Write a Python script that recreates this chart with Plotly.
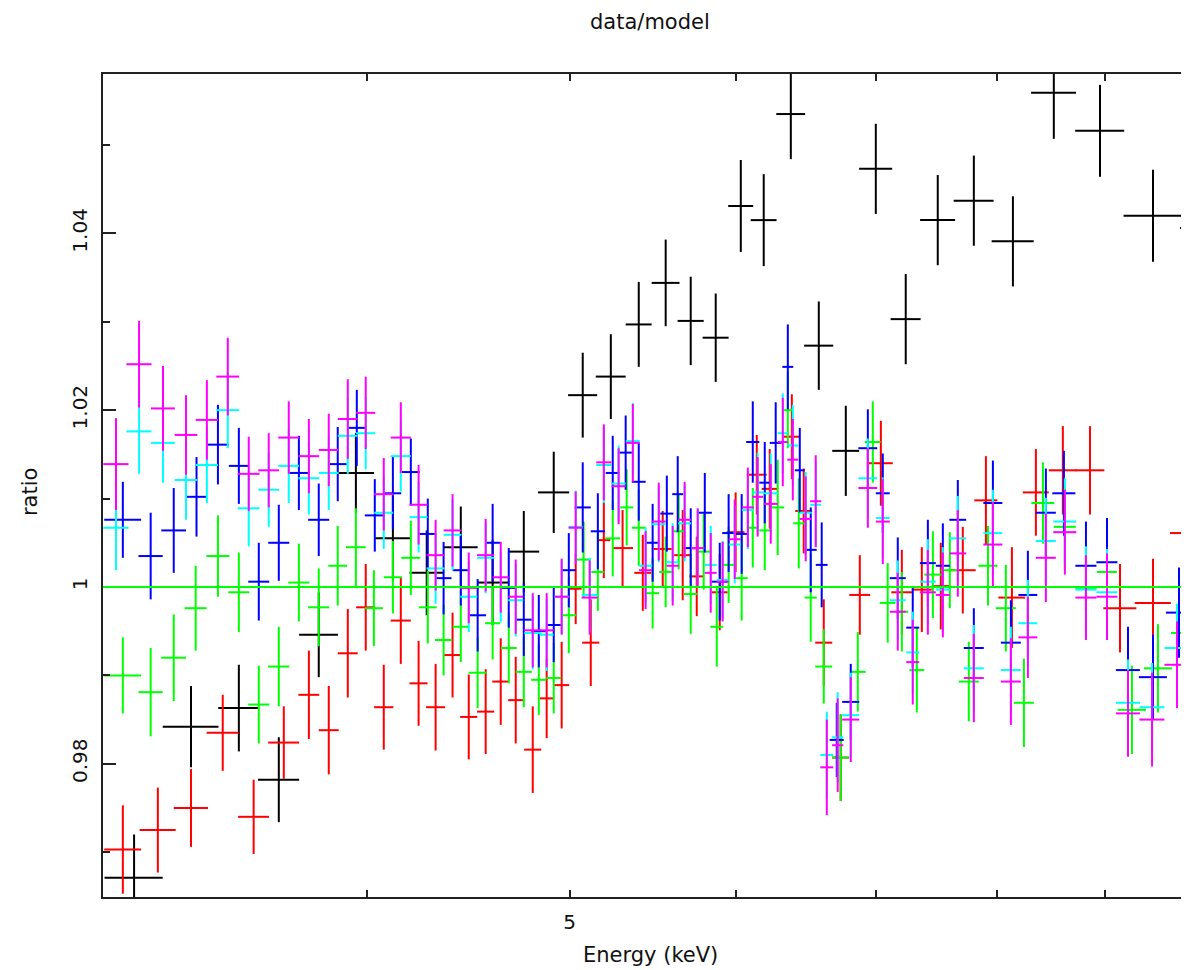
import math
import plotly.graph_objects as go

# ---------------- data (energy keV, half bin width, data/model ratio, 1-sigma error) ----------------
blk_e = [3.098, 3.298, 3.476, 3.632, 3.795, 3.953, 4.117, 4.273, 4.436, 4.594, 4.754, 4.913, 5.072, 5.231,
         5.394, 5.556, 5.711, 5.870, 6.034, 6.188, 6.375, 6.574, 6.772, 6.999, 7.233, 7.492, 7.795, 8.137,
         8.511, 8.954, 9.491, 9.863]
blk_de = [0.099, 0.101, 0.078, 0.082, 0.081, 0.080, 0.079, 0.080, 0.083, 0.078, 0.081, 0.084, 0.081, 0.086,
          0.077, 0.085, 0.082, 0.084, 0.083, 0.088, 0.101, 0.105, 0.100, 0.127, 0.119, 0.144, 0.171, 0.188,
          0.210, 0.241, 0.302, 0.086]
blk_r = [0.9671, 0.9842, 0.9863, 0.9782, 0.9946, 1.0129, 1.0055, 1.0016, 1.0045, 1.0005, 1.0040, 1.0107,
         1.0217, 1.0238, 1.0297, 1.0344, 1.0301, 1.0282, 1.0431, 1.0415, 1.0535, 1.0273, 1.0154, 1.0473,
         1.0303, 1.0415, 1.0437, 1.0391, 1.0559, 1.0516, 1.0420, 1.0406]
blk_err = [0.0049, 0.0046, 0.0049, 0.0048, 0.0048, 0.0045, 0.0048, 0.0048, 0.0046, 0.0048, 0.0046, 0.0046,
           0.0048, 0.0048, 0.0048, 0.0049, 0.0050, 0.0050, 0.0052, 0.0052, 0.0051, 0.0050, 0.0051, 0.0051,
           0.0051, 0.0051, 0.0051, 0.0051, 0.0052, 0.0052, 0.0052, 0.0107]

red_e = [3.060, 3.180, 3.298, 3.415, 3.533, 3.652, 3.754, 3.837, 3.918, 3.996, 4.076, 4.153, 4.235, 4.315,
         4.396, 4.475, 4.559, 4.635, 4.712, 4.801, 4.875, 4.956, 5.033, 5.117, 5.191, 5.299, 5.418, 5.538,
         5.661, 5.749, 5.896, 6.000, 6.141, 6.229, 6.382, 6.466, 6.610, 6.734, 6.877, 7.038, 7.202, 7.362,
         7.517, 7.701, 7.899, 8.128, 8.345, 8.596, 8.856, 9.153, 9.491, 9.809]
red_de = [0.062, 0.063, 0.062, 0.060, 0.060, 0.062, 0.043, 0.042, 0.043, 0.042, 0.043, 0.046, 0.042, 0.045,
          0.041, 0.042, 0.043, 0.043, 0.039, 0.045, 0.037, 0.041, 0.033, 0.048, 0.037, 0.061, 0.050, 0.055,
          0.053, 0.047, 0.052, 0.059, 0.067, 0.055, 0.056, 0.060, 0.062, 0.063, 0.079, 0.093, 0.083, 0.081,
          0.074, 0.110, 0.100, 0.120, 0.119, 0.132, 0.141, 0.166, 0.188, 0.140]
red_r = [0.9703, 0.9725, 0.9750, 0.9835, 0.9740, 0.9824, 0.9878, 0.9838, 0.9925, 0.9977, 0.9864, 0.9962,
         0.9891, 0.9864, 0.9923, 0.9853, 0.9859, 0.9893, 0.9872, 0.9816, 0.9874, 0.9889, 0.9998, 0.9937,
         1.0053, 1.0044, 1.0016, 1.0043, 1.0036, 1.0012, 0.9994, 1.0062, 1.0127, 1.0111, 1.0170, 1.0086,
         0.9937, 0.9807, 0.9991, 1.0140, 0.9994, 0.9997, 1.0001, 1.0019, 1.0098, 0.9988, 1.0107, 1.0132,
         1.0132, 0.9976, 0.9982, 1.0061]
red_err = [0.0050, 0.0048, 0.0044, 0.0043, 0.0042, 0.0041, 0.0050, 0.0050, 0.0050, 0.0049, 0.0048, 0.0049,
           0.0048, 0.0049, 0.0048, 0.0048, 0.0048, 0.0049, 0.0049, 0.0049, 0.0045, 0.0049, 0.0040, 0.0049,
           0.0043, 0.0043, 0.0043, 0.0043, 0.0051, 0.0045, 0.0043, 0.0045, 0.0045, 0.0045, 0.0048, 0.0048,
           0.0049, 0.0049, 0.0045, 0.0048, 0.0048, 0.0048, 0.0049, 0.0049, 0.0050, 0.0057, 0.0049, 0.0050,
           0.0050, 0.0050, 0.0050, 0.0061]

grn_e = [3.060, 3.155, 3.236, 3.315, 3.397, 3.476, 3.553, 3.632, 3.713, 3.795, 3.875, 3.953, 4.032, 4.117,
         4.199, 4.278, 4.353, 4.436, 4.519, 4.594, 4.676, 4.754, 4.833, 4.913, 4.995, 5.077, 5.157, 5.242,
         5.323, 5.394, 5.477, 5.556, 5.636, 5.711, 5.793, 5.877, 5.954, 6.040, 6.114, 6.195, 6.284, 6.354,
         6.431, 6.516, 6.610, 6.734, 6.862, 6.976, 7.091, 7.202, 7.322, 7.452, 7.592, 7.752, 7.917, 8.074,
         8.236, 8.410, 8.615, 8.817, 9.023, 9.274, 9.543, 9.809]
grn_de = [0.062, 0.042, 0.044, 0.040, 0.043, 0.040, 0.041, 0.042, 0.043, 0.044, 0.040, 0.043, 0.040, 0.041,
          0.044, 0.042, 0.041, 0.039, 0.045, 0.038, 0.041, 0.042, 0.040, 0.040, 0.041, 0.042, 0.037, 0.043,
          0.038, 0.041, 0.039, 0.040, 0.034, 0.044, 0.041, 0.042, 0.039, 0.040, 0.040, 0.037, 0.045, 0.038,
          0.039, 0.043, 0.062, 0.063, 0.060, 0.061, 0.062, 0.051, 0.060, 0.070, 0.075, 0.085, 0.083, 0.089,
          0.090, 0.106, 0.104, 0.102, 0.099, 0.145, 0.147, 0.129]
grn_r = [0.9900, 0.9881, 0.9920, 0.9976, 1.0035, 0.9994, 0.9867, 0.9910, 1.0005, 0.9977, 1.0024, 1.0045,
         0.9976, 1.0011, 1.0033, 0.9977, 0.9940, 0.9955, 0.9903, 0.9959, 0.9931, 0.9904, 0.9895, 0.9897,
         0.9968, 1.0031, 1.0017, 1.0055, 1.0090, 1.0067, 0.9993, 1.0017, 1.0063, 0.9992, 1.0040, 0.9955,
         1.0025, 1.0010, 1.0067, 1.0064, 1.0090, 1.0200, 1.0072, 0.9988, 0.9910, 0.9807, 0.9904, 1.0164,
         0.9982, 0.9972, 0.9906, 1.0014, 1.0019, 0.9893, 1.0024, 0.9976, 0.9869, 1.0095, 1.0068, 0.9999,
         1.0017, 0.9861, 0.9908, 0.9948]
grn_err = [0.0043, 0.0050, 0.0049, 0.0048, 0.0046, 0.0045, 0.0044, 0.0045, 0.0044, 0.0044, 0.0045, 0.0044,
           0.0043, 0.0041, 0.0042, 0.0041, 0.0040, 0.0040, 0.0040, 0.0041, 0.0040, 0.0040, 0.0040, 0.0040,
           0.0043, 0.0043, 0.0044, 0.0043, 0.0043, 0.0043, 0.0040, 0.0040, 0.0043, 0.0045, 0.0043, 0.0045,
           0.0043, 0.0048, 0.0045, 0.0045, 0.0054, 0.0043, 0.0051, 0.0050, 0.0042, 0.0049, 0.0045, 0.0046,
           0.0045, 0.0045, 0.0048, 0.0049, 0.0043, 0.0045, 0.0045, 0.0049, 0.0050, 0.0046, 0.0048, 0.0050,
           0.0048, 0.0050, 0.0050, 0.0058]

blu_e = [3.060, 3.155, 3.236, 3.318, 3.397, 3.476, 3.553, 3.632, 3.713, 3.795, 3.875, 3.957, 4.036, 4.117,
         4.199, 4.278, 4.353, 4.436, 4.519, 4.594, 4.676, 4.754, 4.833, 4.913, 4.995, 5.072, 5.157, 5.242,
         5.317, 5.394, 5.477, 5.563, 5.630, 5.711, 5.800, 5.896, 5.954, 6.040, 6.114, 6.195, 6.270, 6.354,
         6.438, 6.516, 6.595, 6.705, 6.809, 6.938, 7.053, 7.170, 7.289, 7.411, 7.534, 7.659, 7.795, 7.960,
         8.119, 8.272, 8.437, 8.606, 8.817, 9.023, 9.234, 9.491, 9.766]
blu_de = [0.062, 0.042, 0.044, 0.036, 0.041, 0.038, 0.041, 0.042, 0.041, 0.044, 0.038, 0.037, 0.044, 0.038,
          0.041, 0.040, 0.038, 0.039, 0.042, 0.038, 0.041, 0.042, 0.040, 0.040, 0.038, 0.045, 0.040, 0.040,
          0.038, 0.041, 0.039, 0.040, 0.034, 0.044, 0.045, 0.052, 0.042, 0.040, 0.044, 0.037, 0.041, 0.038,
          0.035, 0.043, 0.043, 0.052, 0.064, 0.072, 0.054, 0.063, 0.052, 0.065, 0.058, 0.071, 0.086, 0.083,
          0.089, 0.086, 0.093, 0.109, 0.102, 0.104, 0.122, 0.146, 0.139]
blu_r = [1.0076, 1.0035, 1.0064, 1.0102, 1.0161, 1.0137, 1.0006, 1.0050, 1.0129, 1.0076, 1.0139, 1.0180,
         1.0081, 1.0106, 1.0130, 1.0060, 1.0010, 1.0019, 0.9968, 1.0050, 0.9999, 0.9963, 0.9950, 0.9957,
         1.0019, 1.0090, 1.0063, 1.0129, 1.0152, 1.0119, 1.0050, 1.0083, 1.0105, 1.0044, 1.0084, 1.0006,
         1.0061, 1.0060, 1.0164, 1.0118, 1.0163, 1.0249, 1.0132, 1.0042, 1.0025, 0.9827, 0.9870, 1.0157,
         1.0106, 1.0010, 0.9954, 1.0027, 1.0024, 1.0076, 0.9931, 1.0095, 0.9937, 0.9991, 1.0084, 1.0106,
         1.0024, 1.0028, 0.9906, 0.9898, 0.9971]
blu_err = [0.0043, 0.0049, 0.0048, 0.0045, 0.0045, 0.0043, 0.0044, 0.0043, 0.0042, 0.0041, 0.0042, 0.0043,
           0.0041, 0.0041, 0.0038, 0.0040, 0.0041, 0.0040, 0.0041, 0.0044, 0.0045, 0.0041, 0.0041, 0.0042,
           0.0042, 0.0051, 0.0043, 0.0042, 0.0042, 0.0044, 0.0044, 0.0043, 0.0043, 0.0045, 0.0045, 0.0044,
           0.0044, 0.0045, 0.0046, 0.0046, 0.0046, 0.0048, 0.0048, 0.0048, 0.0048, 0.0042, 0.0043, 0.0044,
           0.0045, 0.0046, 0.0045, 0.0049, 0.0048, 0.0045, 0.0045, 0.0048, 0.0048, 0.0050, 0.0050, 0.0048,
           0.0050, 0.0050, 0.0049, 0.0048, 0.0051]

# cyan and magenta share the same energy binning
cm_e = [3.037, 3.115, 3.198, 3.280, 3.356, 3.434, 3.514, 3.592, 3.672, 3.754, 3.837, 3.918, 3.996, 4.076,
        4.153, 4.235, 4.315, 4.396, 4.475, 4.559, 4.635, 4.712, 4.801, 4.875, 4.956, 5.033, 5.111, 5.191,
        5.276, 5.359, 5.435, 5.514, 5.599, 5.673, 5.755, 5.838, 5.915, 5.994, 6.081, 6.147, 6.236, 6.319,
        6.389, 6.480, 6.552, 6.632, 6.712, 6.809, 6.938, 7.053, 7.170, 7.289, 7.411, 7.534, 7.659, 7.795,
        7.960, 8.119, 8.272, 8.437, 8.615, 8.817, 9.023, 9.234, 9.481, 9.745]
cm_de = [0.042, 0.043, 0.042, 0.041, 0.041, 0.043, 0.042, 0.041, 0.042, 0.043, 0.042, 0.043, 0.042, 0.043,
         0.046, 0.042, 0.043, 0.043, 0.042, 0.043, 0.041, 0.039, 0.045, 0.037, 0.041, 0.039, 0.045, 0.043,
         0.041, 0.041, 0.039, 0.042, 0.037, 0.040, 0.041, 0.038, 0.039, 0.039, 0.040, 0.037, 0.048, 0.035,
         0.039, 0.043, 0.040, 0.047, 0.041, 0.064, 0.072, 0.054, 0.063, 0.052, 0.065, 0.058, 0.071, 0.086,
         0.083, 0.089, 0.086, 0.093, 0.109, 0.102, 0.104, 0.122, 0.130, 0.134]
cyn_r = [1.0067, 1.0176, 1.0163, 1.0121, 1.0138, 1.0200, 1.0089, 1.0110, 1.0137, 1.0123, 1.0129, 1.0171,
         1.0174, 1.0084, 1.0148, 1.0079, 1.0021, 1.0059, 0.9989, 1.0033, 1.0000, 0.9985, 0.9948, 0.9946,
         0.9989, 1.0068, 0.9991, 1.0138, 1.0117, 1.0165, 1.0024, 1.0071, 1.0028, 1.0072, 1.0044, 1.0025,
         1.0008, 1.0048, 1.0087, 1.0107, 1.0106, 1.0174, 1.0160, 1.0084, 1.0093, 0.9810, 0.9830, 0.9855,
         1.0123, 1.0078, 0.9985, 0.9926, 1.0006, 0.9997, 1.0055, 0.9908, 1.0061, 0.9906, 0.9959, 1.0052,
         1.0074, 0.9997, 0.9994, 0.9869, 0.9864, 0.9931]
cyn_err = [0.0048, 0.0048, 0.0045, 0.0045, 0.0043, 0.0043, 0.0043, 0.0042, 0.0042, 0.0041, 0.0042, 0.0043,
           0.0041, 0.0041, 0.0040, 0.0040, 0.0040, 0.0040, 0.0040, 0.0040, 0.0040, 0.0041, 0.0041, 0.0041,
           0.0042, 0.0041, 0.0042, 0.0043, 0.0043, 0.0043, 0.0043, 0.0043, 0.0044, 0.0043, 0.0044, 0.0044,
           0.0044, 0.0044, 0.0044, 0.0045, 0.0045, 0.0045, 0.0046, 0.0046, 0.0048, 0.0049, 0.0051, 0.0048,
           0.0045, 0.0046, 0.0045, 0.0046, 0.0048, 0.0048, 0.0048, 0.0049, 0.0049, 0.0049, 0.0049, 0.0049,
           0.0049, 0.0049, 0.0049, 0.0049, 0.0050, 0.0050]
mag_r = [1.0139, 1.0252, 1.0202, 1.0172, 1.0189, 1.0238, 1.0128, 1.0132, 1.0169, 1.0148, 1.0155, 1.0190,
         1.0197, 1.0105, 1.0169, 1.0093, 1.0036, 1.0064, 0.9999, 1.0036, 1.0011, 0.9989, 0.9951, 0.9951,
         0.9989, 1.0067, 0.9988, 1.0141, 1.0114, 1.0163, 1.0019, 1.0074, 1.0024, 1.0076, 1.0044, 1.0016,
         1.0006, 1.0054, 1.0090, 1.0102, 1.0094, 1.0164, 1.0144, 1.0077, 1.0097, 0.9796, 0.9821, 0.9850,
         1.0112, 1.0074, 0.9972, 0.9915, 0.9994, 0.9991, 1.0038, 0.9897, 1.0048, 0.9893, 0.9943, 1.0033,
         1.0062, 0.9988, 0.9989, 0.9857, 0.9850, 0.9912]
mag_err = [0.0052, 0.0049, 0.0048, 0.0045, 0.0045, 0.0044, 0.0042, 0.0042, 0.0041, 0.0042, 0.0041, 0.0045,
           0.0041, 0.0041, 0.0040, 0.0045, 0.0040, 0.0041, 0.0040, 0.0041, 0.0040, 0.0042, 0.0042, 0.0042,
           0.0043, 0.0041, 0.0042, 0.0043, 0.0043, 0.0044, 0.0044, 0.0044, 0.0045, 0.0043, 0.0045, 0.0045,
           0.0045, 0.0045, 0.0045, 0.0045, 0.0045, 0.0050, 0.0046, 0.0048, 0.0052, 0.0054, 0.0053, 0.0048,
           0.0045, 0.0048, 0.0044, 0.0048, 0.0048, 0.0048, 0.0049, 0.0050, 0.0048, 0.0049, 0.0046, 0.0050,
           0.0048, 0.0048, 0.0049, 0.0049, 0.0053, 0.0049]

model_ratio = 1.0
x_min_kev, x_max_kev = 2.994, 9.874
y_min, y_max = 0.96493, 1.05803
x_tick_vals = [4, 5, 6, 7, 8, 9]
x_tick_text = ["", "5", "", "", "", ""]
y_tick_vals = [0.98, 1.00, 1.02, 1.04]
y_tick_text = ["0.98", "1", "1.02", "1.04"]
y_minor_vals = [0.97, 0.99, 1.01, 1.03, 1.05]

series = [
    (blk_e, blk_de, blk_r, blk_err, "#000000"),
    (red_e, red_de, red_r, red_err, "#ff0000"),
    (grn_e, grn_de, grn_r, grn_err, "#00ff00"),
    (blu_e, blu_de, blu_r, blu_err, "#0000ff"),
    (cm_e, cm_de, cyn_r, cyn_err, "#00ffff"),
    (cm_e, cm_de, mag_r, mag_err, "#ff00ff"),
]

fig = go.Figure()
for e, de, r, err, col in series:
    fig.add_trace(go.Scatter(
        x=e, y=r, mode="markers",
        marker=dict(size=1, color=col),
        error_x=dict(type="data", array=de, color=col, thickness=2, width=0),
        error_y=dict(type="data", array=err, color=col, thickness=2, width=0),
        showlegend=False, hoverinfo="skip",
    ))

fig.add_hline(y=model_ratio, line=dict(color="#00ff00", width=2))

axis_col = "#222222"
text_font = dict(family="DejaVu Sans", size=21, color="#111111")
tick_font = dict(family="DejaVu Sans", size=20, color="#111111")

# the page body has an 8 px default margin; the figure is sized so the plot frame
# lands at x 103..1189 and y 74..897 in the browser window
fig.update_layout(
    width=1181, height=962,
    margin=dict(l=95, r=0, t=66, b=73),
    paper_bgcolor="white", plot_bgcolor="white",
    showlegend=False,
    xaxis=dict(
        type="log", range=[math.log10(x_min_kev), math.log10(x_max_kev)],
        tickmode="array", tickvals=x_tick_vals, ticktext=x_tick_text,
        ticks="inside", ticklen=7, tickwidth=2, tickcolor=axis_col,
        showline=True, linecolor=axis_col, linewidth=2, mirror="ticks",
        showgrid=False, zeroline=False, tickfont=tick_font, ticklabelstandoff=6,
    ),
    yaxis=dict(
        range=[y_min, y_max],
        tickmode="array", tickvals=y_tick_vals, ticktext=y_tick_text,
        ticks="inside", ticklen=13, tickwidth=2, tickcolor=axis_col,
        minor=dict(tickmode="array", tickvals=y_minor_vals, ticks="inside", ticklen=7,
                   tickwidth=2, tickcolor=axis_col, showgrid=False),
        showline=True, linecolor=axis_col, linewidth=2, mirror=False,
        showgrid=False, zeroline=False, tickangle=-90, tickfont=tick_font,
        ticklabelstandoff=6,
    ),
    annotations=[
        dict(text="data/model", xref="paper", yref="paper", x=0.5037, y=1.0635,
             showarrow=False, xanchor="center", yanchor="middle", font=text_font),
        dict(text="Energy (keV)", xref="paper", yref="paper", x=0.5037, y=-0.0705,
             showarrow=False, xanchor="center", yanchor="middle", font=text_font),
        dict(text="ratio", xref="paper", yref="paper", x=-0.0672, y=0.492, textangle=-90,
             showarrow=False, xanchor="center", yanchor="middle", font=text_font),
    ],
)

fig.write_html("out.html")
